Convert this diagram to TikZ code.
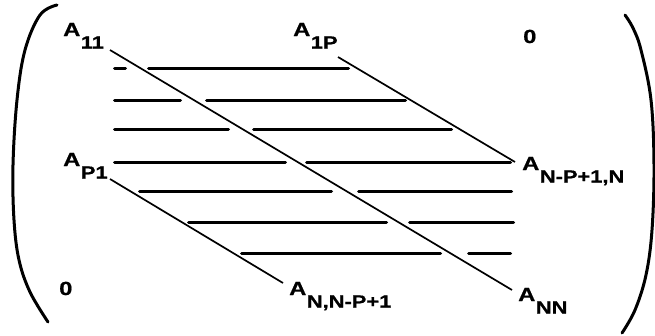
\documentclass[tikz,border=0pt]{standalone}
\usepackage{fontspec}
\newfontfamily\lab[FakeStretch=1.25, FakeBold=0.8]{Liberation Sans}
\newcommand\sbx[1]{\raisebox{-12.5pt}{\fontsize{17.5}{17.5}\selectfont #1}}
\tikzset{
  lbl/.style={anchor=base west, inner sep=0pt, font=\lab\bfseries\fontsize{19}{19}\selectfont},
  diag/.style={line width=1.7pt},
  bar/.style={line width=3pt, line cap=round},
  brk/.style={line width=3pt, line cap=round},
}
\begin{document}
\begin{tikzpicture}[x=1pt, y=-1pt]
\useasboundingbox (0,0) rectangle (655,335);
% labels
\node[lbl] (a11) at (63,36) {A\kern0.5pt\sbx{11}};
\node[lbl] (a1p) at (293,36) {A\kern0.5pt\sbx{1P}};
\node[lbl] (ap1) at (63,166) {A\kern0.5pt\sbx{P1}};
\node[lbl] (anp) at (522,170) {A\kern0.5pt\sbx{N-P+1,N}};
\node[lbl] (ann1) at (289,295) {A\kern0.5pt\sbx{N,N-P+1}};
\node[lbl] (ann) at (518,301) {A\kern0.5pt\sbx{NN}};
\node[lbl] (z1) at (523,43) {0};
\node[lbl] (z2) at (59,295) {0};
% diagonal end points
\coordinate (d1s) at (110,50);
\coordinate (d1e) at (512,290);
\coordinate (d2s) at (338,57);
\coordinate (d2e) at (515,162);
\coordinate (d3s) at (110,179);
\coordinate (d3e) at (283,283);
\draw[diag] (d1s) -- (d1e);
\draw[diag] (d2s) -- (d2e);
\draw[diag] (d3s) -- (d3e);
% band bars
\draw[bar] (114.5,68) -- (125.5,68) (148.5,68) -- (348.5,68);
\draw[bar] (114.5,100) -- (180.5,100) (206.5,100) -- (405.5,100);
\draw[bar] (114.5,129) -- (228.5,129) (253.5,129) -- (451.5,129);
\draw[bar] (114.5,162) -- (285.5,162) (306.5,162) -- (510.5,162);
\draw[bar] (139.5,191) -- (331.5,191) (358.5,191) -- (511.5,191);
\draw[bar] (188.5,222) -- (386.5,222) (409.5,222) -- (513.5,222);
\draw[bar] (241.5,253) -- (440.5,253) (468.5,253) -- (510.5,253);
% brackets
\draw[brk] plot[smooth, tension=0.6] coordinates {(57,5) (40,15) (25,50) (17,100) (13,165) (14,220) (19,260) (30,292) (48,322)};
\draw[brk] plot[smooth, tension=0.6] coordinates {(625,15) (633,28) (641,50) (651,100) (654,165) (652,230) (646,275) (635,310) (622,333)};
\end{tikzpicture}
\end{document}
